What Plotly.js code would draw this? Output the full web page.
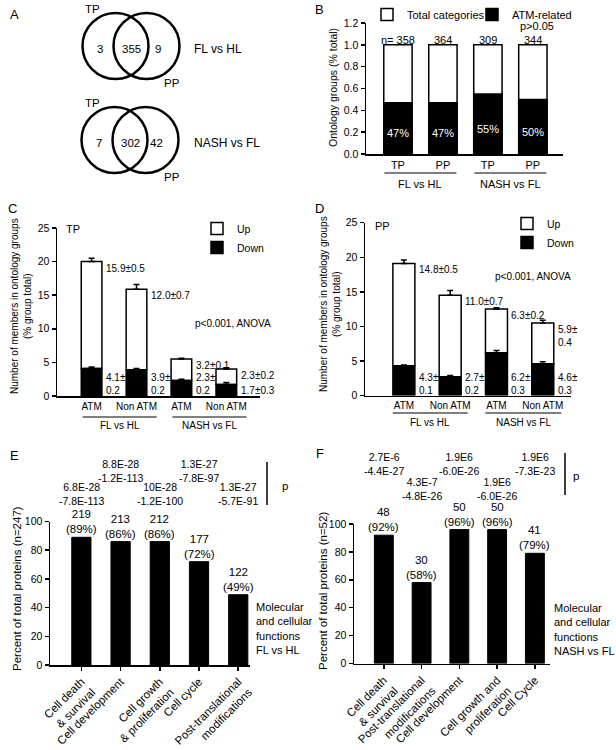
<!DOCTYPE html>
<html><head><meta charset="utf-8">
<script src="https://cdn.plot.ly/plotly-3.0.1.min.js"></script>
<style>html,body{margin:0;padding:0;background:#fff}#chart{width:616px;height:750px}</style>
</head><body><div id="chart"></div>
<script>
// ---------------- DATA ----------------
// A: Venn counts
const vennGroups = ['FL vs HL', 'NASH vs FL'];
const vennTPOnly = [3, 7];
const vennShared = [355, 302];
const vennPPOnly = [9, 42];

// B: ontology groups
const bCats = ['TP', 'PP', 'TP', 'PP'];
const bGroups = ['FL vs HL', 'NASH vs FL'];
const bTotal = [1.0, 1.0, 1.0, 1.0];
const bATM = [0.47, 0.47, 0.55, 0.50];
const bN = ['n= 358', '364', '309', '344'];
const bPct = ['47%', '47%', '55%', '50%'];

// C: TP up/down
const cdCats = ['ATM', 'Non ATM', 'ATM', 'Non ATM'];
const cdGroups = ['FL vs HL', 'NASH vs FL'];
const cDown = [4.1, 3.9, 2.3, 1.7];
const cDownErr = [0.2, 0.2, 0.2, 0.3];
const cUp = [15.9, 12.0, 3.2, 2.3];
const cUpErr = [0.5, 0.7, 0.1, 0.2];
const cUpLabels = ['15.9±0.5', '12.0±0.7', '3.2±0.1', '2.3±0.2'];
const cDownLabels = ['4.1±<br>0.2', '3.9±<br>0.2', '2.3±<br>0.2', '1.7±0.3'];

// D: PP up/down
const dDown = [4.3, 2.7, 6.2, 4.6];
const dDownErr = [0.1, 0.2, 0.3, 0.3];
const dUp = [14.8, 11.8, 6.3, 5.9];
const dUpErr = [0.5, 0.7, 0.2, 0.4];
const dUpLabels = ['14.8±0.5', '11.0±0.7', '6.3±0.2', '5.9±<br>0.4'];
const dDownLabels = ['4.3±<br>0.1', '2.7±<br>0.2', '6.2±<br>0.3', '4.6±<br>0.3'];

// E: FL vs HL functions
const eCats = ['Cell death<br>& survival', 'Cell development', 'Cell growth<br>& proliferation', 'Cell cycle', 'Post-translational<br>modifications'];
const eCounts = [219, 213, 212, 177, 122];
const ePct = [89, 86, 86, 72, 49];
const eP = ['6.8E-28<br>-7.8E-113', '8.8E-28<br>-1.2E-113', '10E-28<br>-1.2E-100', '1.3E-27<br>-7.8E-97', '1.3E-27<br>-5.7E-91'];

// F: NASH vs FL functions
const fCats = ['Cell death<br>& survival', 'Post-translational<br>modifications', 'Cell development', 'Cell growth and<br>proliferation', 'Cell Cycle'];
const fCounts = [48, 30, 50, 50, 41];
const fPct = [92, 58, 96, 96, 79];
const fP = ['2.7E-6<br>-4.4E-27', '4.3E-7<br>-4.8E-26', '1.9E6<br>-6.0E-26', '1.9E6<br>-6.0E-26', '1.9E6<br>-7.3E-23'];

// ---------------- HELPERS ----------------
const W = 616, H = 750;
const px = v => v / W;
const py = v => 1 - v / H;
const FONT = 'Arial, "Liberation Sans", sans-serif';
const BLACK = '#000';
const idx = a => a.map((_, i) => i);
const zeros = a => a.map(() => 0);
const f = (s) => ({family: FONT, size: s, color: BLACK});

const traces = [];
const annotations = [];
const shapes = [];

function ann(text, x, y, opt) {
  annotations.push(Object.assign({text, x, y, xref: 'paper', yref: 'paper', showarrow: false,
    font: f(11), xanchor: 'center', yanchor: 'middle'}, opt || {}));
}

// ---------------- AXES ----------------
const xBase = {showgrid: false, zeroline: false, showline: true, linecolor: BLACK, linewidth: 1.5,
  ticks: '', tickfont: f(11), fixedrange: true};
const yBase = {showgrid: false, zeroline: false, showline: true, linecolor: BLACK, linewidth: 1.5,
  ticks: 'outside', ticklen: 4, tickwidth: 1.5, tickcolor: BLACK, tickfont: f(10.5), fixedrange: true};

const axes = {
  xaxis: Object.assign({}, xBase, {domain: [px(366), px(563)], range: [-0.71, 3.67], anchor: 'y',
    tickvals: idx(bCats), ticktext: bCats}),
  yaxis: Object.assign({}, yBase, {domain: [py(154), py(23)], range: [0, 1.2], dtick: 0.2, tickformat: '.1f', anchor: 'x'}),
  xaxis2: Object.assign({}, xBase, {domain: [px(57), px(260)], range: [-0.77, 3.75], anchor: 'y2',
    tickvals: idx(cdCats), ticktext: cdCats, tickfont: f(10)}),
  yaxis2: Object.assign({}, yBase, {domain: [py(396), py(228)], range: [0, 25], dtick: 5, anchor: 'x2'}),
  xaxis3: Object.assign({}, xBase, {domain: [px(365), px(571)], range: [-0.84, 3.61], anchor: 'y3',
    tickvals: idx(cdCats), ticktext: cdCats, tickfont: f(10)}),
  yaxis3: Object.assign({}, yBase, {domain: [py(395.5), py(222.7)], range: [0, 25], dtick: 5, anchor: 'x3'}),
  xaxis4: Object.assign({}, xBase, {domain: [px(50), px(250)], range: [-0.8, 4.3], anchor: 'y4',
    tickvals: idx(eCats), ticktext: eCats, tickangle: -45, tickfont: f(11.5),
    ticks: 'outside', ticklen: 4, tickwidth: 1.5, tickcolor: BLACK}),
  yaxis4: Object.assign({}, yBase, {domain: [py(665), py(521.5)], range: [0, 100], dtick: 20, anchor: 'x4'}),
  xaxis5: Object.assign({}, xBase, {domain: [px(354), px(550)], range: [-0.79, 4.4], anchor: 'y5',
    tickvals: idx(fCats), ticktext: fCats, tickangle: -45, tickfont: f(11.5),
    ticks: 'outside', ticklen: 4, tickwidth: 1.5, tickcolor: BLACK}),
  yaxis5: Object.assign({}, yBase, {domain: [py(663.5), py(524)], range: [0, 100], dtick: 20, anchor: 'x5'})
};
// map an x-axis value to paper coordinates (for decorations outside the plot area)
function xToPaper(axName, v) {
  const a = axes[axName];
  return a.domain[0] + (v - a.range[0]) / (a.range[1] - a.range[0]) * (a.domain[1] - a.domain[0]);
}

// Axis titles (placed as rotated text)
ann('Ontology groups (% total)', px(333), py(88), {font: f(10.5), textangle: -90});
ann('Number of members in ontology groups<br>(% group total)', px(21), py(306), {font: f(10), textangle: -90});
ann('Number of members in ontology groups<br>(% group total)', px(330), py(304), {font: f(10), textangle: -90});
ann('Percent of total proteins (n=247)', px(17), py(589), {font: f(11.5), textangle: -90});
ann('Percent of total proteins (n=52)', px(323), py(591), {font: f(11.5), textangle: -90});

// Panel letters
ann('A', px(8), py(14), {font: f(13), xanchor: 'left'});
ann('B', px(313), py(9), {font: f(13), xanchor: 'left'});
ann('C', px(6), py(208), {font: f(13), xanchor: 'left'});
ann('D', px(313), py(208), {font: f(13), xanchor: 'left'});
ann('E', px(8), py(455), {font: f(13), xanchor: 'left'});
ann('F', px(314), py(453), {font: f(13), xanchor: 'left'});

// ---------------- A: Venn ----------------
const vennCY = [46, 140], vennCX = [131, 130], vennR = 33, vennDX = 15.5;
vennGroups.forEach((g, i) => {
  const cy = vennCY[i], cx = vennCX[i];
  [cx - vennDX, cx + vennDX].forEach(c => {
    shapes.push({type: 'circle', xref: 'paper', yref: 'paper',
      x0: px(c - vennR), x1: px(c + vennR), y0: py(cy + vennR), y1: py(cy - vennR),
      line: {color: BLACK, width: 2.5}});
  });
  ann(String(vennTPOnly[i]), px(cx - vennDX - 16), py(cy + 3), {font: f(11.5)});
  ann(String(vennShared[i]), px(cx), py(cy + 3), {font: f(11.5)});
  ann(String(vennPPOnly[i]), px(cx + vennDX + 11), py(cy + 3), {font: f(11.5)});
  ann('TP', px(92), py(cy - 37), {font: f(11.5)});
  ann('PP', px(172), py(cy + 37), {font: f(11.5)});
  ann(g, px(192), py(cy + 3), {font: f(12), xanchor: 'left'});
});

// ---------------- B ----------------
const bIdx = idx(bCats);
traces.push({type: 'bar', x: bIdx, y: bTotal, xaxis: 'x', yaxis: 'y', name: 'Total categories',
  marker: {color: '#fff', line: {color: BLACK, width: 1.5}}, width: 0.63,
  legend: 'legend', hoverinfo: 'skip'});
traces.push({type: 'bar', x: bIdx, y: bATM, xaxis: 'x', yaxis: 'y', name: 'ATM-related',
  marker: {color: BLACK, line: {color: BLACK, width: 1.5}}, width: 0.63,
  legend: 'legend4', hoverinfo: 'skip'});
bIdx.forEach(i => {
  annotations.push({text: bPct[i], x: i, y: bATM[i] / 2, xref: 'x', yref: 'y', yshift: -5,
    xanchor: 'center', showarrow: false, font: {family: FONT, size: 11, color: '#fff'}});
  annotations.push({text: bN[i], x: i, y: bTotal[i], xref: 'x', yref: 'y', yanchor: 'bottom', yshift: -3,
    xanchor: 'center', showarrow: false, font: f(11)});
});
ann('p>0.05', px(537), py(25.5), {font: f(11)});
[[0, 1], [2, 3]].forEach((gr, gi) => {
  shapes.push({type: 'line', xref: 'paper', yref: 'paper', x0: xToPaper('xaxis', gr[0] - 0.3), x1: xToPaper('xaxis', gr[1] + 0.3),
    y0: py(173), y1: py(173), line: {color: BLACK, width: 1.2}});
  ann(bGroups[gi], xToPaper('xaxis', (gr[0] + gr[1]) / 2), py(184), {font: f(11)});
});

// ---------------- C & D ----------------
function upDown(xa, ya, up, upErr, down, downErr, upLab, downLab, legendName, bw) {
  const xi = idx(up);
  traces.push({type: 'bar', x: xi, y: up, base: down, xaxis: xa, yaxis: ya, name: 'Up',
    marker: {color: '#fff', line: {color: BLACK, width: 1.5}}, width: bw,
    error_y: {type: 'data', array: upErr, arrayminus: zeros(upErr), symmetric: false,
      color: BLACK, thickness: 1.5, width: 3},
    legend: legendName, hoverinfo: 'skip'});
  traces.push({type: 'bar', x: xi, y: down, xaxis: xa, yaxis: ya, name: 'Down',
    marker: {color: BLACK, line: {color: BLACK, width: 1.5}}, width: bw,
    error_y: {type: 'data', array: downErr, arrayminus: zeros(downErr), symmetric: false,
      color: BLACK, thickness: 1.5, width: 3},
    legend: legendName, hoverinfo: 'skip'});
  xi.forEach(i => {
    annotations.push({text: upLab[i], x: i + bw / 2, y: up[i] + down[i], xref: xa, yref: ya,
      xanchor: 'left', yanchor: 'top', xshift: 2, yshift: 1, align: 'left', showarrow: false, font: f(10)});
    annotations.push({text: downLab[i], x: i + bw / 2, y: 0, xref: xa, yref: ya,
      xanchor: 'left', yanchor: 'bottom', xshift: 2, yshift: -2, align: 'left', showarrow: false, font: f(10)});
  });
}
upDown('x2', 'y2', cUp, cUpErr, cDown, cDownErr, cUpLabels, cDownLabels, 'legend2', 0.46);
upDown('x3', 'y3', dUp, dUpErr, dDown, dDownErr, dUpLabels, dDownLabels, 'legend3', 0.475);

ann('TP', px(64), py(229), {font: f(11), xanchor: 'left'});
ann('PP', px(373), py(226), {font: f(11), xanchor: 'left'});
ann('p<0.001, ANOVA', px(193), py(324), {font: f(10), xanchor: 'left'});
ann('p<0.001, ANOVA', px(493), py(277), {font: f(10), xanchor: 'left'});

[['xaxis2', 417, 426, [[-0.2, 1.45], [1.8, 3.45]]], ['xaxis3', 413, 423, [[-0.24, 1.38], [1.76, 3.4]]]].forEach(spec => {
  const [xa, ly, ty, grs] = spec;
  grs.forEach((gr, gi) => {
    shapes.push({type: 'line', xref: 'paper', yref: 'paper', x0: xToPaper(xa, gr[0]), x1: xToPaper(xa, gr[1]),
      y0: py(ly), y1: py(ly), line: {color: BLACK, width: 1.2}});
    ann(cdGroups[gi], xToPaper(xa, (gr[0] + gr[1]) / 2), py(ty), {font: f(10)});
  });
});

// ---------------- E & F ----------------
function funcPanel(xa, ya, counts, pct, pvals, highFirst, lowY, highY, bw) {
  const xi = idx(pct);
  traces.push({type: 'bar', x: xi, y: pct, xaxis: xa, yaxis: ya, width: bw,
    marker: {color: BLACK, line: {color: BLACK, width: 1}}, showlegend: false, hoverinfo: 'skip'});
  xi.forEach(i => {
    annotations.push({text: counts[i] + '<br>(' + pct[i] + '%)', x: i, y: pct[i], xref: xa, yref: ya,
      xanchor: 'center', yanchor: 'bottom', yshift: 0, showarrow: false, font: f(11.5)});
    const high = (i % 2 === 0) === highFirst;
    annotations.push({text: pvals[i], x: i, y: py(high ? highY : lowY), xref: xa, yref: 'paper',
      xanchor: 'center', showarrow: false, font: f(10.5)});
  });
}
funcPanel('x4', 'y4', eCounts, ePct, eP, false, 494, 471, 0.49);
funcPanel('x5', 'y5', fCounts, fPct, fP, true, 489, 464, 0.5);

shapes.push({type: 'line', xref: 'paper', yref: 'paper', x0: px(267), x1: px(267), y0: py(462), y1: py(505), line: {color: BLACK, width: 1.5}});
ann('p', px(285), py(486), {font: f(11.5)});
shapes.push({type: 'line', xref: 'paper', yref: 'paper', x0: px(565), x1: px(565), y0: py(453), y1: py(495), line: {color: BLACK, width: 1.5}});
ann('p', px(576), py(476), {font: f(11.5)});

ann('Molecular<br>and cellular<br>functions<br>FL vs HL', px(254), py(628), {font: f(11), xanchor: 'left', align: 'left'});
ann('Molecular<br>and cellular<br>functions<br>NASH vs FL', px(552), py(629), {font: f(11), xanchor: 'left', align: 'left'});

const legBase = {xanchor: 'left', yanchor: 'top', bgcolor: 'rgba(0,0,0,0)', traceorder: 'normal'};
const layout = Object.assign({
  width: W, height: H, margin: {l: 0, r: 0, t: 0, b: 0},
  paper_bgcolor: '#fff', plot_bgcolor: 'rgba(0,0,0,0)',
  barmode: 'overlay', dragmode: false, font: f(11),
  legend: Object.assign({x: px(367), y: 1, font: f(11)}, legBase),
  legend4: Object.assign({x: px(472), y: 1, font: f(11)}, legBase),
  legend2: Object.assign({x: px(197), y: py(214), font: f(10.5)}, legBase),
  legend3: Object.assign({x: px(507), y: py(209), font: f(10.5)}, legBase),
  annotations, shapes
}, axes);

Plotly.newPlot('chart', traces, layout, {displayModeBar: false, staticPlot: true});
</script>
</body></html>
